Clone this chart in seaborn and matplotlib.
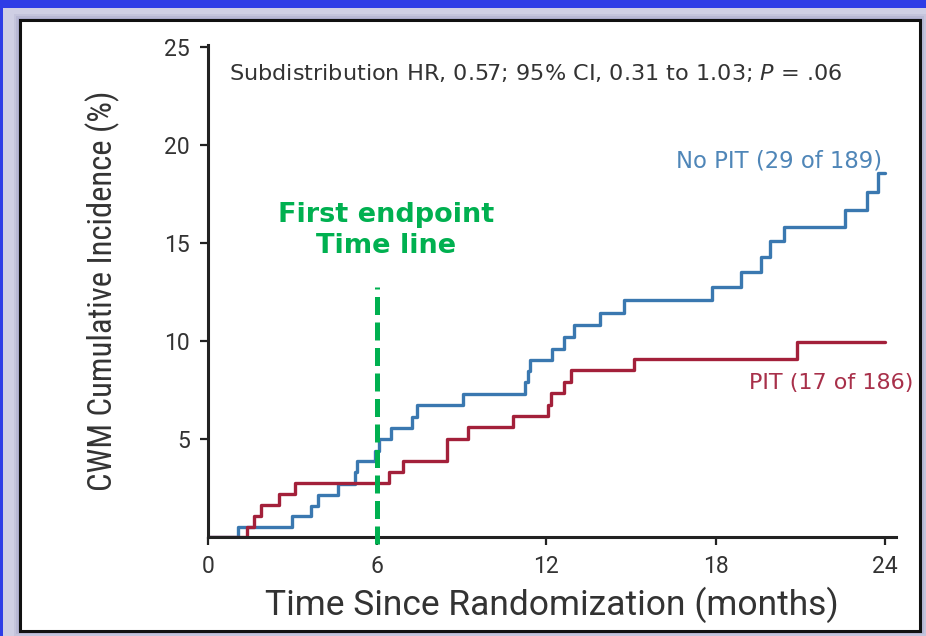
import matplotlib
matplotlib.use("Agg")
import matplotlib.pyplot as plt
from matplotlib.patches import Rectangle
import numpy as np
import pandas as pd
import seaborn as sns

# Cumulative incidence (%) of CWM, step changes at event times (months)
no_pit_months = [0, 1.05, 2.98, 3.67, 3.89, 4.6, 5.2, 5.29, 5.94, 6.05, 6.48, 7.25,
                 7.42, 9.03, 11.25, 11.34, 11.43, 12.2, 12.64, 12.97, 13.89, 14.74,
                 17.86, 18.9, 19.6, 19.94, 20.44, 22.6, 23.38, 23.77, 24.0]
no_pit_incidence = [0, 0.53, 1.06, 1.6, 2.13, 2.7, 3.3, 3.88, 4.4, 5.0, 5.55, 6.1,
                    6.72, 7.28, 7.9, 8.47, 9.05, 9.6, 10.2, 10.83, 11.44, 12.1,
                    12.76, 13.5, 14.3, 15.1, 15.83, 16.7, 17.6, 18.55, 18.55]

pit_months = [0, 1.38, 1.64, 1.89, 2.53, 3.1, 6.42, 6.9, 8.49, 9.23, 10.8, 12.05,
              12.15, 12.64, 12.88, 15.1, 20.9, 24.0]
pit_incidence = [0, 0.53, 1.07, 1.63, 2.19, 2.74, 3.3, 3.88, 5.0, 5.6, 6.19, 6.73,
                 7.33, 7.92, 8.5, 9.1, 9.96, 9.96]

group_names = ["No PIT", "PIT"]
group_labels = ["No PIT (29 of 189)", "PIT (17 of 186)"]
x_ticks = [0, 6, 12, 18, 24]
y_ticks = [5, 10, 15, 20, 25]
endpoint_month = 6
stats_text = "Subdistribution HR, 0.57; 95% CI, 0.31 to 1.03; "

df = pd.concat([
    pd.DataFrame({"month": no_pit_months, "incidence": no_pit_incidence, "group": group_names[0]}),
    pd.DataFrame({"month": pit_months, "incidence": pit_incidence, "group": group_names[1]}),
])

sns.set_theme(style="ticks")
narrow = ["Roboto Condensed", "Liberation Sans Narrow", "DejaVu Sans Condensed", "Roboto"]
axis_font = ["Roboto", "Liberation Sans", "DejaVu Sans"]
plt.rcParams["font.family"] = ["DejaVu Sans"]
plt.rcParams["mathtext.fontset"] = "custom"
plt.rcParams["mathtext.it"] = "DejaVu Sans:italic"
plt.rcParams["mathtext.rm"] = "DejaVu Sans"

W, H = 926, 636
fig = plt.figure(figsize=(W / 100, H / 100), dpi=100)

def px_rect(x0, y0, x1, y1, **kw):
    return Rectangle((x0 / W, 1 - y1 / H), (x1 - x0) / W, (y1 - y0) / H,
                     transform=fig.transFigure, **kw)

# slide background: blue band, lavender shadow, white framed panel
fig.patches.append(px_rect(0, 0, W, H, facecolor="#cfcfe4", edgecolor="none", zorder=-10))
for i, c in enumerate(["#c4c4dc", "#b8b8d4", "#acacce"]):
    fig.patches.append(px_rect(14 + 2 * i, 14 + 2 * i, 926 - 2 * i, 636 - 2 * i,
                               facecolor=c, edgecolor="none", zorder=-9))
fig.patches.append(px_rect(0, 0, W, 8, facecolor="#2e3de6", edgecolor="none", zorder=-8))
fig.patches.append(px_rect(0, 0, 3, H, facecolor="#2e3de6", edgecolor="none", zorder=-8))
fig.patches.append(px_rect(20, 20, 920, 631, facecolor="white", edgecolor="#111111",
                           linewidth=2.2, zorder=-7))

ax = fig.add_axes([208 / W, 1 - 537 / H, (896 - 208) / W, (537 - 45) / H])
ax.set_facecolor("none")

palette = {group_names[0]: "#3a78b0", group_names[1]: "#a3203a"}
sns.lineplot(data=df, x="month", y="incidence", hue="group", palette=palette,
             estimator=None, sort=False, drawstyle="steps-post", linewidth=2.4,
             legend=False, ax=ax)

ax.set_xlim(0, 24.4)
ax.set_ylim(0, 25.1)
ax.set_xticks(x_ticks)
ax.set_yticks(y_ticks)
sns.despine(ax=ax)
for s in ("left", "bottom"):
    ax.spines[s].set_linewidth(2.2)
    ax.spines[s].set_color("#222222")
ax.tick_params(axis="both", direction="out", length=6, width=1.6, color="#222222",
               labelsize=16.5, labelcolor="#333333", pad=7)
for lab in ax.get_xticklabels() + ax.get_yticklabels():
    lab.set_family(axis_font)

ax.set_xlabel("Time Since Randomization (months)", family=axis_font, fontsize=25.5,
              color="#333333", labelpad=6)
ax.set_ylabel("CWM Cumulative Incidence (%)", family=narrow, fontsize=23.5,
              color="#333333", labelpad=32)

# hazard ratio summary
ax.text(0.03, 0.943, stats_text + r"$\it{P}$ = .06", transform=ax.transAxes,
        fontsize=16.1, color="#333333", va="center", ha="left")

# curve labels
ax.text(23.92, 19.2, group_labels[0], fontsize=16.4, color="#4f86b8",
        ha="right", va="center")
ax.text(25.0, 7.86, group_labels[1], fontsize=16, color="#a8304a",
        ha="right", va="center", clip_on=False)

# first-endpoint marker
ax.plot([endpoint_month, endpoint_month], [-0.35, 12.75], color="#00b050",
        linewidth=3.6, linestyle=(0, (3.6, 1.5)), clip_on=False, zorder=5)
ax.text(6.31, 15.66, "First endpoint\nTime line", fontsize=19.5, fontweight="bold",
        color="#00b050", ha="center", va="center", linespacing=1.25)

fig.savefig("out.png", dpi=100)
